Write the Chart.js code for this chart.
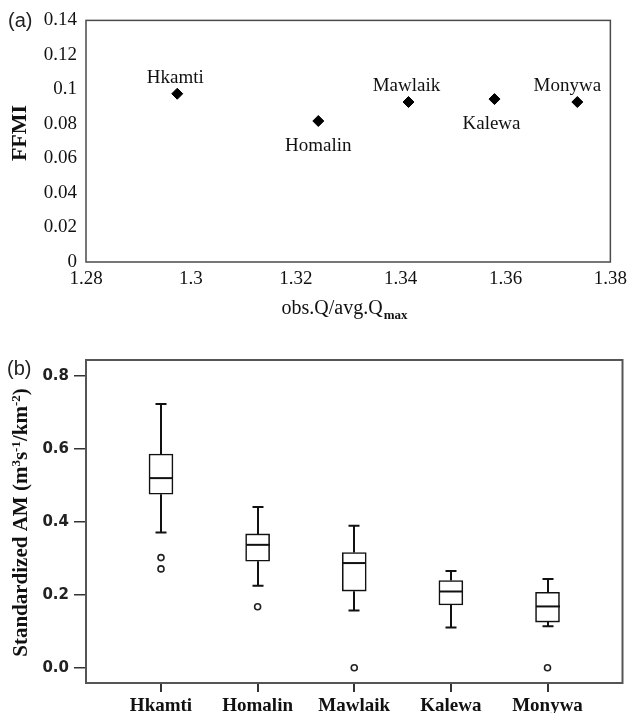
<!DOCTYPE html>
<html>
<head>
<meta charset="utf-8">
<script src="https://cdn.jsdelivr.net/npm/chart.js@4/dist/chart.umd.min.js"></script>
<style>
  html, body { margin: 0; padding: 0; background: #fff; }
  #wrap { position: relative; width: 633px; height: 713px; overflow: hidden; }
  canvas { position: absolute; left: 0; }
  #cA { top: 0; }
  #cB { top: 330px; }
</style>
</head>
<body>
<div id="wrap">
  <canvas id="cA" width="633" height="330"></canvas>
  <canvas id="cB" width="633" height="383"></canvas>
</div>
<script>
// ---------- Panel (a) data ----------
const stations = ['Hkamti', 'Homalin', 'Mawlaik', 'Kalewa', 'Monywa'];
const obsRatio = [1.2974, 1.3243, 1.3415, 1.3579, 1.3737];
const ffmi = [0.0975, 0.0817, 0.0927, 0.0944, 0.0927];
const labelSide = ['above', 'below', 'above', 'below', 'above'];
const xTicksA = [1.28, 1.30, 1.32, 1.34, 1.36, 1.38];
const yTicksA = [0, 0.02, 0.04, 0.06, 0.08, 0.10, 0.12, 0.14];

// ---------- Panel (b) data ----------
const categories = ['Hkamti', 'Homalin', 'Mawlaik', 'Kalewa', 'Monywa'];
const whiskerLow = [0.371, 0.225, 0.157, 0.110, 0.114];
const q1 = [0.476, 0.292, 0.210, 0.172, 0.125];
const median = [0.520, 0.337, 0.287, 0.209, 0.168];
const q3 = [0.586, 0.367, 0.316, 0.239, 0.207];
const whiskerHigh = [0.723, 0.441, 0.389, 0.265, 0.243];
const outlierCat = [1, 1, 2, 3, 5];
const outlierVal = [0.302, 0.271, 0.167, 0.0, 0.0];
const yTicksB = [0, 0.2, 0.4, 0.6, 0.8];

const SERIF = '"Liberation Serif", "Times New Roman", serif';
const SANS = '"Liberation Sans", Arial, sans-serif';

function fmtA(v) { return String(Number(v.toFixed(2))); }

// ---------- Chart (a) ----------
const plugA = {
  id: 'plugA',
  afterDraw(chart) {
    const ctx = chart.ctx, a = chart.chartArea;
    const xs = chart.scales.x, ys = chart.scales.y;
    ctx.save();
    // frame
    ctx.strokeStyle = '#4a4a4a';
    ctx.lineWidth = 1.5;
    ctx.strokeRect(a.left, a.top, a.right - a.left, a.bottom - a.top);
    // point labels
    ctx.fillStyle = '#111';
    ctx.font = '19px ' + SERIF;
    ctx.textAlign = 'center';
    ctx.textBaseline = 'middle';
    const dxs = [-2, 0, -2, -3, -10];
    for (let i = 0; i < stations.length; i++) {
      const px = xs.getPixelForValue(obsRatio[i]);
      const py = ys.getPixelForValue(ffmi[i]);
      const dy = labelSide[i] === 'above' ? -16 : 25;
      ctx.fillText(stations[i], px + dxs[i], py + dy);
    }
    // x title with subscript
    ctx.textAlign = 'left';
    ctx.textBaseline = 'alphabetic';
    ctx.font = '20px ' + SERIF;
    const main = 'obs.Q/avg.Q';
    const wMain = ctx.measureText(main).width;
    ctx.font = 'bold 13px ' + SERIF;
    const wSub = ctx.measureText('max').width;
    const cx = 344, base = 314;
    const x0 = cx - (wMain + wSub) / 2;
    ctx.font = '20px ' + SERIF;
    ctx.fillText(main, x0, base);
    ctx.font = 'bold 13px ' + SERIF;
    ctx.fillText('max', x0 + wMain + 1, base + 5);
    // y title
    ctx.save();
    ctx.translate(20, 133);
    ctx.rotate(-Math.PI / 2);
    ctx.textAlign = 'center';
    ctx.textBaseline = 'middle';
    ctx.font = 'bold 22px ' + SERIF;
    ctx.fillText('FFMI', 0, 0);
    ctx.restore();
    // panel label
    ctx.font = '20px ' + SANS;
    ctx.textAlign = 'left';
    ctx.textBaseline = 'middle';
    ctx.fillStyle = '#222';
    ctx.fillText('(a)', 8, 21);
    ctx.restore();
  }
};

new Chart(document.getElementById('cA'), {
  type: 'scatter',
  data: {
    datasets: [{
      data: obsRatio.map((x, i) => ({ x: x, y: ffmi[i] })),
      pointStyle: 'rectRot',
      pointRadius: 5.5,
      pointHoverRadius: 5.5,
      backgroundColor: '#000',
      borderColor: '#000',
      borderWidth: 1
    }]
  },
  options: {
    responsive: false,
    animation: false,
    devicePixelRatio: 1,
    layout: { padding: { top: 20, right: 20, left: 0, bottom: 0 } },
    plugins: { legend: { display: false }, tooltip: { enabled: false } },
    scales: {
      x: {
        type: 'linear', min: 1.28, max: 1.38,
        afterBuildTicks(s) { s.ticks = xTicksA.map(v => ({ value: v })); },
        afterFit(s) { s.height = 68; },
        grid: { display: false, drawTicks: false },
        border: { display: false },
        ticks: { callback: v => fmtA(v), font: { family: SERIF, size: 19 }, color: '#111', padding: 6, maxRotation: 0, autoSkip: false }
      },
      y: {
        type: 'linear', min: 0, max: 0.14,
        afterBuildTicks(s) { s.ticks = yTicksA.map(v => ({ value: v })); },
        afterFit(s) { s.width = 86; },
        grid: { display: false, drawTicks: false },
        border: { display: false },
        ticks: { callback: v => fmtA(v), font: { family: SERIF, size: 19 }, color: '#111', padding: 9, autoSkip: false }
      }
    }
  },
  plugins: [plugA]
});

// ---------- Chart (b) ----------
const plugB = {
  id: 'plugB',
  beforeDatasetsDraw(chart) {
    const ctx = chart.ctx;
    const xs = chart.scales.x, ys = chart.scales.y;
    ctx.save();
    ctx.strokeStyle = '#111';
    ctx.lineWidth = 2;
    ctx.lineCap = 'butt';
    const capHalf = 5.5;
    for (let i = 0; i < categories.length; i++) {
      const px = Math.round(xs.getPixelForValue(i + 1));
      const yHi = ys.getPixelForValue(whiskerHigh[i]);
      const yQ3 = ys.getPixelForValue(q3[i]);
      const yQ1 = ys.getPixelForValue(q1[i]);
      const yLo = ys.getPixelForValue(whiskerLow[i]);
      ctx.beginPath();
      ctx.moveTo(px, yQ3); ctx.lineTo(px, yHi);
      ctx.moveTo(px - capHalf, yHi); ctx.lineTo(px + capHalf, yHi);
      ctx.moveTo(px, yQ1); ctx.lineTo(px, yLo);
      ctx.moveTo(px - capHalf, yLo); ctx.lineTo(px + capHalf, yLo);
      ctx.stroke();
    }
    ctx.restore();
  },
  afterDatasetsDraw(chart) {
    const ctx = chart.ctx;
    const xs = chart.scales.x, ys = chart.scales.y;
    ctx.save();
    ctx.strokeStyle = '#111';
    ctx.lineWidth = 2;
    for (let i = 0; i < categories.length; i++) {
      const px = Math.round(xs.getPixelForValue(i + 1));
      const ym = ys.getPixelForValue(median[i]);
      ctx.beginPath();
      ctx.moveTo(px - 12, ym); ctx.lineTo(px + 12, ym);
      ctx.stroke();
    }
    ctx.restore();
  },
  afterDraw(chart) {
    const ctx = chart.ctx, a = chart.chartArea;
    ctx.save();
    ctx.strokeStyle = '#555';
    ctx.lineWidth = 2;
    ctx.strokeRect(a.left, a.top, a.right - a.left, a.bottom - a.top);
    // y title with superscripts
    const parts = [
      ['Standardized AM (m', false], ['3', true], ['s', false], ['-1', true],
      ['/km', false], ['-2', true], [')', false]
    ];
    const mainFont = 'bold 21px ' + SERIF, supFont = 'bold 13px ' + SERIF;
    let total = 0;
    const widths = parts.map(p => { ctx.font = p[1] ? supFont : mainFont; const w = ctx.measureText(p[0]).width; total += w; return w; });
    ctx.translate(20, (a.top + a.bottom) / 2 + 1);
    ctx.rotate(-Math.PI / 2);
    ctx.fillStyle = '#111';
    ctx.textAlign = 'left';
    ctx.textBaseline = 'alphabetic';
    let x = -total / 2;
    parts.forEach((p, i) => {
      ctx.font = p[1] ? supFont : mainFont;
      ctx.fillText(p[0], x, p[1] ? -0.5 : 7);
      x += widths[i];
    });
    ctx.restore();
    ctx.save();
    ctx.font = '20px ' + SANS;
    ctx.fillStyle = '#222';
    ctx.textAlign = 'left';
    ctx.textBaseline = 'middle';
    ctx.fillText('(b)', 7, 39);
    ctx.restore();
  }
};

new Chart(document.getElementById('cB'), {
  type: 'bar',
  data: {
    datasets: [
      {
        type: 'bar',
        data: categories.map((c, i) => ({ x: i + 1, y: [q1[i], q3[i]] })),
        backgroundColor: '#fff',
        borderColor: '#111',
        borderWidth: 1.6,
        borderSkipped: false,
        barThickness: 24,
        grouped: false
      },
      {
        type: 'scatter',
        data: outlierCat.map((c, i) => ({ x: c, y: outlierVal[i] })),
        pointStyle: 'circle',
        pointRadius: 3,
        pointHoverRadius: 3,
        backgroundColor: '#fff',
        borderColor: '#222',
        borderWidth: 1.6
      }
    ]
  },
  options: {
    responsive: false,
    animation: false,
    devicePixelRatio: 1,
    layout: { padding: { top: 30, right: 10.5, left: 0, bottom: 0 } },
    plugins: { legend: { display: false }, tooltip: { enabled: false } },
    scales: {
      x: {
        type: 'linear', min: 0.224, max: 5.776, offset: false,
        afterBuildTicks(s) { s.ticks = categories.map((c, i) => ({ value: i + 1 })); },
        afterFit(s) { s.height = 30; },
        grid: { drawOnChartArea: false, drawTicks: true, tickLength: 9, color: '#333', lineWidth: 2, offset: false },
        border: { display: false },
        ticks: { callback: v => categories[Math.round(v) - 1], font: { family: SERIF, size: 19, weight: 'bold' }, color: '#111', padding: 3, maxRotation: 0, autoSkip: false }
      },
      y: {
        type: 'linear', min: -0.042, max: 0.844,
        afterBuildTicks(s) { s.ticks = yTicksB.map(v => ({ value: v })); },
        afterFit(s) { s.width = 86; },
        grid: { drawOnChartArea: false, drawTicks: true, tickLength: 12, color: '#333', lineWidth: 1.5 },
        border: { display: false },
        ticks: { callback: v => v.toFixed(1), font: { family: '"DejaVu Sans", sans-serif', size: 15, weight: 'bold' }, color: '#222', padding: 5, autoSkip: false }
      }
    }
  },
  plugins: [plugB]
});
</script>
</body>
</html>
